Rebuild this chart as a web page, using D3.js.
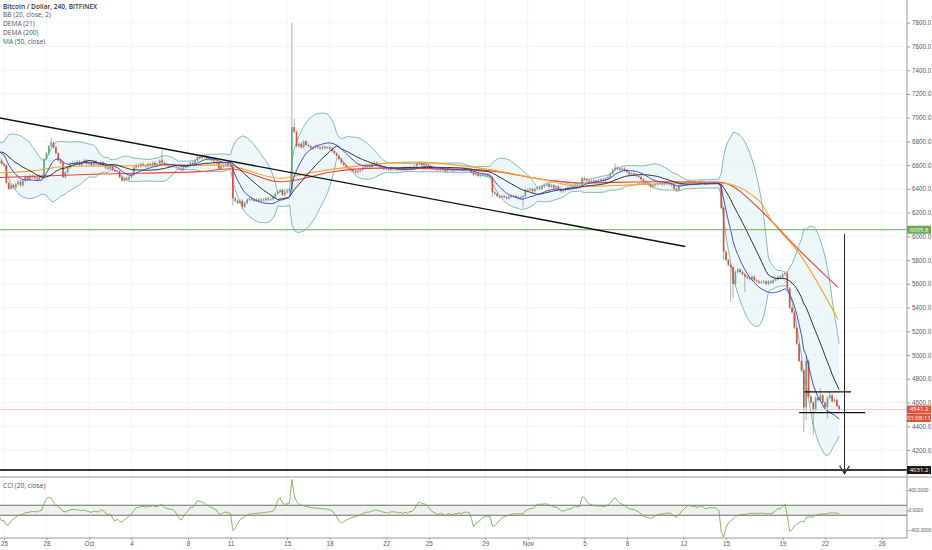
<!DOCTYPE html>
<html>
<head>
<meta charset="utf-8">
<script src="https://cdn.jsdelivr.net/npm/d3@7"></script>
<style>
  body { margin: 0; background: #fff; }
  svg { display: block; font-family: "Open Sans", "DejaVu Sans", sans-serif; }
</style>
</head>
<body>
<div id="chart"></div>
<script>
// 4h candles, first one Sep 21 2018 08:00 UTC (the first 20 sit left of the view and only feed the indicators)
const firstCandle = Date.UTC(2018, 8, 21, 8);

const closes = [
  6520, 6600, 6720, 6760,                 // Sep 21
  6740, 6780, 6760, 6730, 6700, 6710,     // Sep 22
  6720, 6700, 6690, 6720, 6740, 6730,     // Sep 23
  6710, 6690, 6680, 6660, 6640, 6610,     // Sep 24
  6600, 6450, 6400, 6430, 6410, 6440,     // Sep 25
  6460, 6430, 6470, 6500, 6480, 6510,     // Sep 26
  6500, 6490, 6480, 6510, 6500, 6650,     // Sep 27
  6700, 6760, 6790, 6750, 6700, 6640,     // Sep 28
  6620, 6500, 6540, 6580, 6610, 6620,     // Sep 29
  6610, 6630, 6600, 6620, 6640, 6610,     // Sep 30
  6620, 6600, 6630, 6610, 6600, 6620,     // Oct 1
  6600, 6580, 6570, 6590, 6560, 6550,     // Oct 2
  6550, 6500, 6470, 6490, 6480, 6500,     // Oct 3
  6520, 6580, 6600, 6590, 6610, 6600,     // Oct 4
  6590, 6610, 6600, 6620, 6600, 6610,     // Oct 5
  6640, 6620, 6610, 6600, 6590, 6600,     // Oct 6
  6590, 6580, 6570, 6560, 6580, 6590,     // Oct 7
  6600, 6620, 6610, 6640, 6670, 6660,     // Oct 8
  6680, 6670, 6660, 6650, 6640, 6630,     // Oct 9
  6620, 6570, 6590, 6600, 6610, 6600,     // Oct 10
  6600, 6320, 6300, 6280, 6300, 6250,     // Oct 11
  6280, 6310, 6320, 6310, 6300, 6310,     // Oct 12
  6300, 6310, 6305, 6320, 6310, 6315,     // Oct 13
  6330, 6360, 6380, 6390, 6350, 6370,     // Oct 14
  6380, 6390, 6920, 6880, 6760, 6780,     // Oct 15
  6750, 6800, 6770, 6760, 6740, 6750,     // Oct 16
  6760, 6750, 6740, 6755, 6745, 6750,     // Oct 17
  6740, 6720, 6700, 6680, 6650, 6620,     // Oct 18
  6600, 6580, 6570, 6560, 6550, 6540,     // Oct 19
  6550, 6560, 6580, 6590, 6600, 6590,     // Oct 20
  6610, 6620, 6600, 6590, 6580, 6570,     // Oct 21
  6570, 6560, 6575, 6565, 6570, 6560,     // Oct 22
  6570, 6560, 6575, 6565, 6580, 6570,     // Oct 23
  6590, 6610, 6620, 6600, 6610, 6600,     // Oct 24
  6590, 6575, 6570, 6565, 6560, 6570,     // Oct 25
  6560, 6550, 6570, 6560, 6555, 6565,     // Oct 26
  6560, 6565, 6555, 6570, 6560, 6565,     // Oct 27
  6540, 6520, 6530, 6510, 6520, 6515,     // Oct 28
  6520, 6510, 6500, 6370, 6360, 6340,     // Oct 29
  6330, 6340, 6330, 6320, 6335, 6340,     // Oct 30
  6340, 6330, 6320, 6330, 6340, 6390,     // Oct 31
  6390, 6400, 6380, 6400, 6410, 6400,     // Nov 1
  6420, 6430, 6440, 6420, 6430, 6410,     // Nov 2
  6420, 6400, 6380, 6390, 6400, 6410,     // Nov 3
  6410, 6420, 6430, 6420, 6430, 6490,     // Nov 4
  6480, 6470, 6460, 6470, 6460, 6470,     // Nov 5
  6470, 6480, 6470, 6490, 6500, 6530,     // Nov 6
  6560, 6580, 6570, 6560, 6570, 6555,     // Nov 7
  6540, 6520, 6530, 6520, 6510, 6500,     // Nov 8
  6480, 6460, 6450, 6440, 6420, 6430,     // Nov 9
  6440, 6450, 6445, 6440, 6450, 6445,     // Nov 10
  6440, 6430, 6400, 6390, 6430, 6440,     // Nov 11
  6450, 6455, 6460, 6450, 6455, 6450,     // Nov 12
  6450, 6460, 6455, 6445, 6450, 6455,     // Nov 13
  6450, 6455, 6450, 6440, 6240, 5870,     // Nov 14
  5800, 5760, 5740, 5600, 5700, 5720,     // Nov 15
  5700, 5680, 5660, 5650, 5640, 5660,     // Nov 16
  5630, 5620, 5610, 5615, 5620, 5600,     // Nov 17
  5620, 5610, 5630, 5640, 5660, 5650,     // Nov 18
  5680, 5690, 5560, 5400, 5360, 5230,     // Nov 19
  5095, 4950, 4870, 4560, 4950, 4650,     // Nov 20
  4600, 4540, 4640, 4620, 4660, 4600,     // Nov 21
  4560, 4640, 4660, 4610, 4620, 4570,     // Nov 22
  4541.2                                  // Nov 23
];

// candles whose wicks reach well past the body: [time, high, low]
const longWicks = [
  ['2018-09-28T08', 6830, null],
  ['2018-10-06T04', 6725, null],
  ['2018-10-11T04', null, 6260],
  ['2018-10-11T20', null, 6230],
  ['2018-10-15T08', 7800, 6360],
  ['2018-10-15T12', 6990, null],
  ['2018-10-29T12', null, 6330],
  ['2018-10-31T16', null, 6245],
  ['2018-11-07T04', 6615, null],
  ['2018-11-14T20', null, 5800],
  ['2018-11-15T08', null, 5450],
  ['2018-11-15T12', null, 5480],
  ['2018-11-16T08', null, 5530],
  ['2018-11-20T12', null, 4350],
  ['2018-11-20T16', 5000, 4450],
  ['2018-11-21T04', null, 4330],
  ['2018-11-21T16', 4720, null],
  ['2018-11-22T04', null, 4470],
  ['2018-11-22T08', 4690, null]
];

// slow averages: [time, price]
const ma50Line = [
  ['2018-09-24T16', 6535], ['2018-09-27T01', 6552], ['2018-09-29T11', 6590], ['2018-10-10T01', 6600],
  ['2018-10-11T05', 6585], ['2018-10-14T12', 6490], ['2018-10-16T20', 6540], ['2018-10-23T22', 6625],
  ['2018-10-28T15', 6575], ['2018-11-02T09', 6470], ['2018-11-04T17', 6420], ['2018-11-09T15', 6440],
  ['2018-11-14T14', 6450], ['2018-11-17T10', 6290], ['2018-11-18T03', 6150], ['2018-11-20T05', 5850],
  ['2018-11-22T22', 5300]
];
const dema200Line = [
  ['2018-09-24T16', 6495], ['2018-10-01T19', 6525], ['2018-10-08T20', 6545], ['2018-10-10T23', 6570],
  ['2018-10-14T12', 6460], ['2018-10-15T10', 6470], ['2018-10-18T00', 6540], ['2018-10-21T14', 6575],
  ['2018-10-28T15', 6560], ['2018-11-02T09', 6475], ['2018-11-04T17', 6450], ['2018-11-09T15', 6460],
  ['2018-11-14T14', 6455], ['2018-11-17T10', 6225], ['2018-11-18T03', 6140], ['2018-11-20T05', 5880],
  ['2018-11-22T22', 5570]
];

// drawings
const trendLine = [['2018-09-24T17', 6997], ['2018-11-12T03', 5915]];
const rangeTop = [['2018-11-20T13', 4690], ['2018-11-23T20', 4690]];
const rangeBottom = [['2018-11-20T04', 4515], ['2018-11-24T20', 4515]];
const arrowLine = [['2018-11-23T09', 6020], ['2018-11-23T09', 4000]];
const resistance = 6055.8;
const target = 4031.2;
const timer = '01:08:11';

const dateTicks = ['2018-09-25', '2018-09-28', '2018-10-01', '2018-10-04', '2018-10-08', '2018-10-11', '2018-10-15',
  '2018-10-18', '2018-10-22', '2018-10-25', '2018-10-29', '2018-11-01', '2018-11-05', '2018-11-08', '2018-11-12',
  '2018-11-15', '2018-11-19', '2018-11-22', '2018-11-26'];
const dateLabels = ['25', '28', 'Oct', '4', '8', '11', '15', '18', '22', '25', '29', 'Nov', '5', '8', '12', '15', '19', '22', '26'];
const priceTicks = d3.range(4200, 7801, 200);
const cciTicks = [-400, 0, 400];
const legendLines = ['Bitcoin / Dollar, 240, BITFINEX', 'BB (20, close, 2)', 'DEMA (21)', 'DEMA (200)', 'MA (50, close)'];

const W = 932, H = 550;
const axisX = 907, mainBottom = 476, cciTop = 478, cciBottom = 538;
const wickPad = 12;

const t = (s) => new Date(s.length <= 10 ? s + 'T00:00Z' : s + ':00Z');

const x = d3.scaleUtc().domain([t('2018-09-25'), t('2018-11-26')]).range([4, 881.7]);
const y = d3.scaleLinear().domain([4200, 7800]).range([450, 22.7]);
const yC = d3.scaleLinear().domain([-400, 400]).range([530.3, 490.3]);

const times = closes.map((c, i) => new Date(firstCandle + i * 4 * 3600e3));
const wickMap = new Map(longWicks.map((w) => [t(w[0]).getTime(), w]));
const candles = closes.map((c, i) => {
  const open = i === 0 ? c : closes[i - 1];
  const w = wickMap.get(times[i].getTime());
  const high = w && w[1] != null ? w[1] : Math.max(open, c) + wickPad;
  const low = w && w[2] != null ? w[2] : Math.min(open, c) - wickPad;
  return { t: times[i], open, close: c, high, low };
});

// Bollinger (20, 2)
const bb = [];
closes.forEach((c, i) => {
  if (i < 19) return;
  const win = closes.slice(i - 19, i + 1);
  const m = d3.mean(win);
  const sd = Math.sqrt(d3.mean(win, (v) => (v - m) ** 2));
  bb.push({ t: times[i], mid: m, up: m + 2 * sd, lo: m - 2 * sd });
});

// DEMA (21)
const ema = (arr, n) => {
  const k = 2 / (n + 1);
  let prev = arr[0];
  return arr.map((v, i) => (i === 0 ? v : (prev = v * k + prev * (1 - k))));
};
const e1 = ema(closes, 21);
const e2 = ema(e1, 21);
const dema21 = closes.map((c, i) => ({ t: times[i], v: 2 * e1[i] - e2[i] }));

// CCI (20)
const tp = candles.map((d) => (d.high + d.low + d.close) / 3);
const cci = [];
tp.forEach((v, i) => {
  if (i < 19) return;
  const win = tp.slice(i - 19, i + 1);
  const m = d3.mean(win);
  const md = d3.mean(win, (w) => Math.abs(w - m));
  cci.push({ t: times[i], v: md === 0 ? 0 : (v - m) / (0.015 * md) });
});

const svg = d3.select('#chart').append('svg').attr('width', W).attr('height', H);
const defs = svg.append('defs');
defs.append('clipPath').attr('id', 'clipMain').append('rect').attr('x', 0).attr('y', 0).attr('width', axisX).attr('height', mainBottom);
defs.append('clipPath').attr('id', 'clipCci').append('rect').attr('x', 0).attr('y', cciTop).attr('width', axisX).attr('height', cciBottom - cciTop);

// grid
const grid = svg.append('g').attr('stroke', '#f3f4f6').attr('stroke-width', 1);
grid.selectAll('line.v').data(dateTicks).enter().append('line')
  .attr('x1', (d) => x(t(d))).attr('x2', (d) => x(t(d))).attr('y1', 0).attr('y2', cciBottom);
grid.selectAll('line.h').data(priceTicks).enter().append('line')
  .attr('x1', 0).attr('x2', axisX).attr('y1', (d) => y(d)).attr('y2', (d) => y(d));

const main = svg.append('g').attr('clip-path', 'url(#clipMain)');

// BB band
main.append('path').datum(bb)
  .attr('fill', '#e6f2f6').attr('fill-opacity', 0.7)
  .attr('d', d3.area().x((d) => x(d.t)).y0((d) => y(d.lo)).y1((d) => y(d.up)));
['up', 'lo'].forEach((k) => {
  main.append('path').datum(bb)
    .attr('fill', 'none').attr('stroke', '#68aaa6').attr('stroke-width', 0.8)
    .attr('d', d3.line().x((d) => x(d.t)).y((d) => y(d[k])));
});

// candles
const step = x(new Date(firstCandle + 4 * 3600e3)) - x(new Date(firstCandle));
const bodyW = step * 0.72;
const cg = main.append('g');
cg.selectAll('line').data(candles).enter().append('line')
  .attr('x1', (d) => x(d.t)).attr('x2', (d) => x(d.t))
  .attr('y1', (d) => y(d.high)).attr('y2', (d) => y(d.low))
  .attr('stroke', '#8d8d8f').attr('stroke-width', 0.7);
cg.selectAll('rect').data(candles).enter().append('rect')
  .attr('x', (d) => x(d.t) - bodyW / 2).attr('width', bodyW)
  .attr('y', (d) => y(Math.max(d.open, d.close)))
  .attr('height', (d) => Math.max(0.8, Math.abs(y(d.open) - y(d.close))))
  .attr('fill', (d) => (d.close >= d.open ? '#6ba583' : '#d75442'));

// indicator lines
const line = d3.line().x((d) => x(d.t)).y((d) => y(d.v));
const pairLine = d3.line().x((d) => x(t(d[0]))).y((d) => y(d[1]));
main.append('path').datum(dema200Line).attr('fill', 'none').attr('stroke', '#f0433a').attr('stroke-width', 1.1)
  .attr('d', pairLine.curve(d3.curveMonotoneX));
main.append('path').datum(ma50Line).attr('fill', 'none').attr('stroke', '#f5a623').attr('stroke-width', 1.1)
  .attr('d', pairLine.curve(d3.curveMonotoneX));
main.append('path').datum(bb.map((d) => ({ t: d.t, v: d.mid }))).attr('fill', 'none').attr('stroke', '#1e1e1e').attr('stroke-width', 0.9).attr('d', line);
main.append('path').datum(dema21).attr('fill', 'none').attr('stroke', '#3b3bd6').attr('stroke-width', 0.9).attr('d', line);

// levels
const straight = d3.line().x((d) => x(t(d[0]))).y((d) => y(d[1]));
main.append('line').attr('x1', 0).attr('x2', axisX).attr('y1', y(resistance)).attr('y2', y(resistance))
  .attr('stroke', '#6aab52').attr('stroke-width', 1);
const last = closes[closes.length - 1];
main.append('line').attr('x1', 0).attr('x2', axisX).attr('y1', y(last)).attr('y2', y(last))
  .attr('stroke', '#f5c0bb').attr('stroke-width', 0.8);
main.append('path').datum(trendLine).attr('stroke', '#111').attr('stroke-width', 1.4).attr('fill', 'none').attr('d', straight);
main.append('path').datum(rangeTop).attr('stroke', '#111').attr('stroke-width', 1.2).attr('fill', 'none').attr('d', straight);
main.append('path').datum(rangeBottom).attr('stroke', '#111').attr('stroke-width', 1.2).attr('fill', 'none').attr('d', straight);
main.append('path').datum(arrowLine).attr('stroke', '#222').attr('stroke-width', 1).attr('fill', 'none').attr('d', straight);
const tipX = x(t(arrowLine[1][0])), tipY = y(arrowLine[1][1]);
main.append('path').attr('d', `M${tipX - 5},${tipY - 8}L${tipX},${tipY}L${tipX + 5},${tipY - 8}`)
  .attr('stroke', '#222').attr('stroke-width', 1.2).attr('fill', 'none');
svg.append('line').attr('x1', 0).attr('x2', axisX).attr('y1', y(target)).attr('y2', y(target))
  .attr('stroke', '#3a3a3a').attr('stroke-width', 2);

// panel separator
svg.append('line').attr('x1', 0).attr('x2', W).attr('y1', 477).attr('y2', 477).attr('stroke', '#9a9a9a').attr('stroke-width', 1);

// CCI panel
const cg2 = svg.append('g').attr('clip-path', 'url(#clipCci)');
cg2.append('rect').attr('x', 0).attr('width', axisX).attr('y', yC(100)).attr('height', yC(-100) - yC(100)).attr('fill', '#eef2ee');
[100, -100].forEach((v) => {
  cg2.append('line').attr('x1', 0).attr('x2', axisX).attr('y1', yC(v)).attr('y2', yC(v))
    .attr('stroke', '#6d6d6d').attr('stroke-width', 1.1);
});
cg2.append('path').datum(cci).attr('fill', 'none').attr('stroke', '#74a23f').attr('stroke-width', 0.8)
  .attr('d', d3.line().x((d) => x(d.t)).y((d) => yC(d.v)));

// axes
svg.append('line').attr('x1', axisX).attr('x2', axisX).attr('y1', 0).attr('y2', cciBottom).attr('stroke', '#9a9a9a');
svg.append('line').attr('x1', 0).attr('x2', axisX).attr('y1', cciBottom).attr('y2', cciBottom).attr('stroke', '#9a9a9a');

const styleAxis = (size) => (g) => {
  g.select('.domain').remove();
  g.selectAll('.tick line').attr('stroke', '#9a9a9a');
  g.selectAll('.tick text').attr('fill', '#5a5a5a').style('font-size', size);
};
svg.append('g').attr('transform', `translate(${axisX},0)`)
  .call(d3.axisRight(y).tickValues(priceTicks).tickFormat(d3.format('.1f')).tickSize(3).tickPadding(2))
  .call(styleAxis('6.3px'));
svg.append('g').attr('transform', `translate(${axisX},0)`)
  .call(d3.axisRight(yC).tickValues(cciTicks).tickFormat(d3.format('.4f')).tickSize(1.5).tickPadding(0))
  .call(styleAxis('4.8px'));
svg.append('g').attr('transform', `translate(0,${cciBottom})`)
  .call(d3.axisBottom(x).tickValues(dateTicks.map(t)).tickFormat((d, i) => dateLabels[i]).tickSize(2).tickPadding(2))
  .call(styleAxis('6.3px'));

// axis price labels
const tag = (price, text, color) => {
  const g = svg.append('g').attr('transform', `translate(${axisX},${price})`);
  g.append('rect').attr('x', 0).attr('y', -4).attr('width', 24).attr('height', 8).attr('fill', color);
  g.append('text').attr('x', 12).attr('y', 0.3).attr('text-anchor', 'middle').attr('dominant-baseline', 'middle')
    .attr('fill', '#fff').style('font-size', '6px').text(text);
};
tag(y(resistance), resistance.toFixed(1), '#6aab52');
tag(y(last), last.toFixed(1), '#e0533f');
tag(y(last) + 8.5, timer, '#e0533f');
tag(y(target), target.toFixed(1), '#1a1a1a');

// legends
svg.append('g').selectAll('text').data(legendLines).enter().append('text')
  .attr('x', 3).attr('y', (d, i) => 7 + i * 8.7).attr('dominant-baseline', 'middle')
  .attr('fill', (d, i) => (i === 0 ? '#333' : '#555'))
  .style('font-size', '6.6px').style('font-weight', (d, i) => (i === 0 ? 600 : 400))
  .text((d) => d);
svg.append('text').attr('x', 3).attr('y', 486).attr('dominant-baseline', 'middle')
  .attr('fill', '#555').style('font-size', '6.6px').text('CCI (20, close)');
</script>
</body>
</html>
